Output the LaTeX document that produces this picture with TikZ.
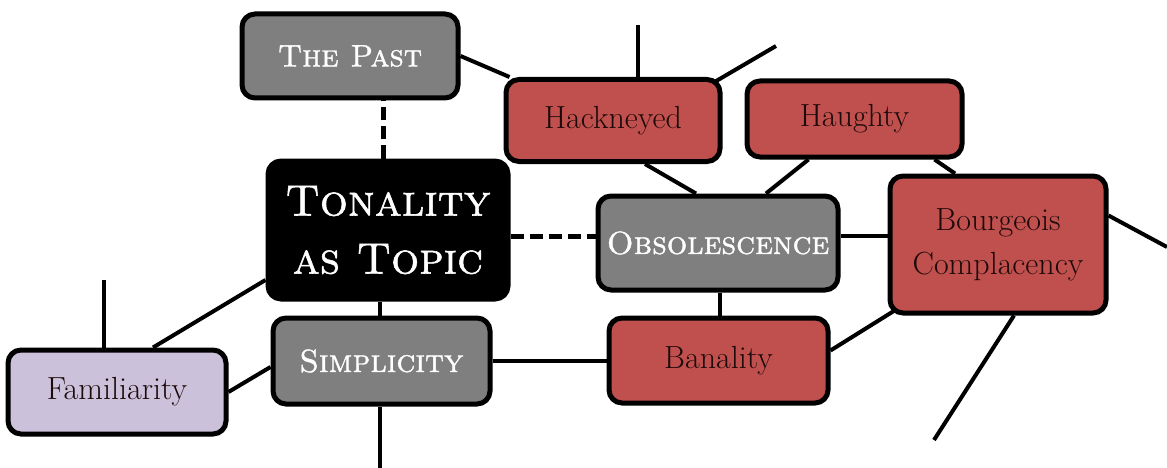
\documentclass[tikz,border=0pt]{standalone}
\usepackage{fontspec}
\usetikzlibrary{backgrounds}
\newfontfamily\capsface{lmromancaps10-regular}[Extension=.otf, FakeBold=1.2]
\definecolor{boxgray}{HTML}{7F7F7F}
\definecolor{boxred}{HTML}{C0504D}
\definecolor{boxlilac}{HTML}{CCC1DA}
\definecolor{inkdark}{HTML}{1E0A0A}
\tikzset{
  concept/.style={draw=black, line width=5pt, rounded corners=13pt, inner sep=0pt,
    align=center},
  keybox/.style={concept, fill=boxgray, text=white, font=\fontsize{32}{36}\capsface},
  hubbox/.style={concept, fill=black, text=white, font=\fontsize{44}{58}\capsface},
  redbox/.style={concept, fill=boxred, text=inkdark, font=\fontsize{32}{44}\selectfont},
  lilacbox/.style={concept, fill=boxlilac, text=inkdark, font=\fontsize{32}{44}\selectfont},
  link/.style={draw=black, line width=4pt},
  dashlink/.style={draw=black, line width=5pt, dash pattern=on 13pt off 6pt},
}
\begin{document}
\begin{tikzpicture}[x=1pt, y=-1pt]
\useasboundingbox (0,0) rectangle (1167,468);

% concept boxes
\node[keybox, minimum width=216pt, minimum height=84pt, font=\fontsize{31}{34}\capsface]
  (past) at (350,56) {The Past};
\node[redbox, minimum width=214pt, minimum height=82pt] (hack) at (613,120.5) {Hackneyed};
\node[redbox, minimum width=215pt, minimum height=76pt] (haughty) at (854.5,119) {Haughty};
\node[hubbox, minimum width=240pt, minimum height=138pt] (tonal) at (388,230) {Tonality\\as Topic};
\node[keybox, minimum width=240pt, minimum height=94pt] (obs) at (718,243) {Obsolescence};
\node[redbox, minimum width=216pt, minimum height=137pt] (bourg) at (998,244.5) {Bourgeois\\Complacency};
\node[keybox, minimum width=217pt, minimum height=86pt] (simp) at (381.5,361) {Simplicity};
\node[redbox, minimum width=219pt, minimum height=85pt] (banal) at (718.5,360.5) {Banality};
\node[lilacbox, minimum width=218pt, minimum height=84pt] (famil) at (117,392) {Familiarity};

% loose ends of connectors
\coordinate (hackup) at (638,25);
\coordinate (hackne) at (776,46);
\coordinate (simpdown) at (380,468);
\coordinate (familup) at (104,280);
\coordinate (bourgright) at (1167,247);
\coordinate (bourgdown) at (934,440);

\begin{scope}[on background layer]
  % dashed links around the hub
  \draw[dashlink] ([xshift=-5pt]tonal.north) -- ([xshift=-5pt]tonal.north |- past.south);
  \draw[dashlink] ([yshift=-6pt]tonal.east) -- ([yshift=-6pt]tonal.east -| obs.west);
  % solid links
  \draw[link] ([xshift=-8pt]tonal.south) -- ([xshift=-8pt]tonal.south |- simp.north);
  \draw[link] ([xshift=-1.5pt]simp.south) -- (simpdown);
  \draw[link] ([xshift=25pt]hack.north) -- (hackup);
  \draw[link] ([xshift=-8pt,yshift=-5pt]hack.north east) -- (hackne);
  \draw[link] (past.east) -- ([xshift=6pt]hack.north west);
  \draw[link] (familup) -- (familup |- famil.north);
  \draw[link] ([xshift=36pt]famil.north) -- ([yshift=-50pt]tonal.west);
  \draw[link] (famil.east) -- ([yshift=-6pt]simp.west);
  \draw[link] (simp.east) -- (simp.east -| banal.west);
  \draw[link] ([xshift=32pt]hack.south) -- ([xshift=-22pt]obs.north);
  \draw[link] ([xshift=-46pt]haughty.south) -- ([xshift=48pt]obs.north);
  \draw[link] ([xshift=80pt]haughty.south) -- ([xshift=-43pt]bourg.north);
  \draw[link] ([yshift=7pt]obs.east) -- ([yshift=7pt]obs.east -| bourg.west);
  \draw[link] ([xshift=2pt]obs.south) -- ([xshift=2pt]obs.south |- banal.north);
  \draw[link] ([yshift=10pt]banal.east) -- ([xshift=20pt,yshift=-58pt]bourg.west);
  \draw[link] ([yshift=29pt]bourg.east) -- (bourgright);
  \draw[link] ([xshift=16pt]bourg.south) -- (bourgdown);
\end{scope}
\end{tikzpicture}
\end{document}
